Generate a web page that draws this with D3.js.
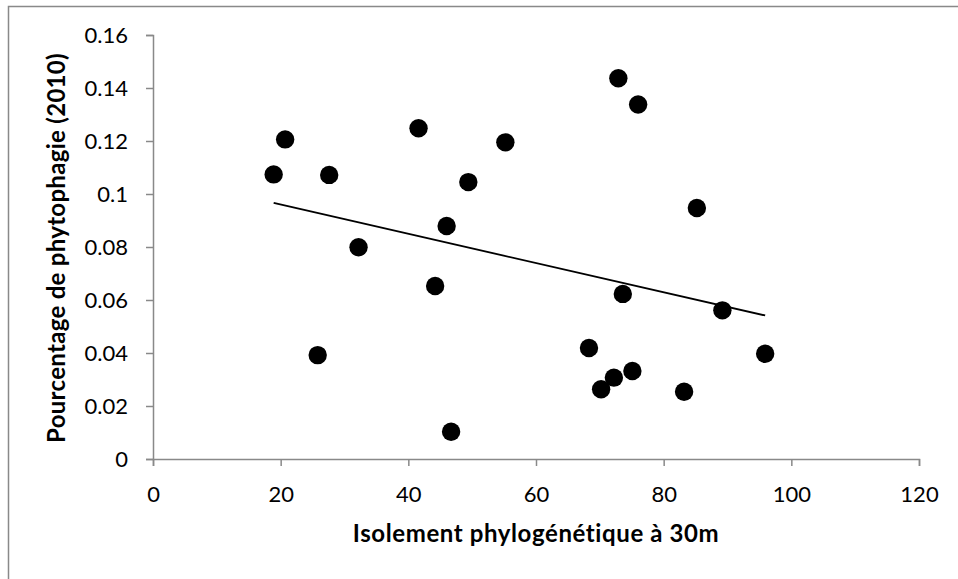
<!DOCTYPE html>
<html>
<head>
<meta charset="utf-8">
<script src="https://cdn.jsdelivr.net/npm/d3@7"></script>
<style>
  body { margin: 0; background: #fff; }
  svg text { font-family: Lato, "Open Sans", sans-serif; fill: #000; }
</style>
</head>
<body>
<svg id="scatter"></svg>
<script>
// isolement phylogenetique (x) and pourcentage de phytophagie (y)
const isolement = [18.9, 20.7, 25.8, 27.6, 32.2, 41.6, 44.2, 46.0, 46.7, 49.4, 55.2,
  68.3, 70.2, 72.2, 72.9, 73.6, 75.1, 76.0, 83.2, 85.2, 89.2, 95.9];
const phytophagie = [0.1074, 0.1206, 0.0392, 0.1072, 0.0799, 0.1248, 0.0653, 0.0879, 0.0103, 0.1045, 0.1195,
  0.0419, 0.0263, 0.0307, 0.1437, 0.0623, 0.0332, 0.1338, 0.0254, 0.0947, 0.0561, 0.0397];
const xTicks = [0, 20, 40, 60, 80, 100, 120];
const yTicks = [0, 0.02, 0.04, 0.06, 0.08, 0.1, 0.12, 0.14, 0.16];

const xTitle = "Isolement phylogénétique à 30m";
const yTitle = "Pourcentage de phytophagie (2010)";

function drawScatter() {

  const W = 958, H = 579;
  const margin = {top: 35, right: 39, bottom: 120, left: 153},
    width = W - margin.left - margin.right,
    height = H - margin.top - margin.bottom;

  const root = d3.select("#scatter")
    .attr("width", W)
    .attr("height", H);

  // chart frame (runs off the right and bottom of the picture)
  root.append("rect")
    .attr("x", 8.5)
    .attr("y", 6.5)
    .attr("width", W + 10)
    .attr("height", H + 10)
    .style("fill", "none")
    .style("stroke", "#898989")
    .style("stroke-width", 1.5);

  const svg = root.append("g")
    .attr("transform", `translate(${margin.left}, ${margin.top})`);

  const data = isolement.map((x, i) => ({x: x, y: phytophagie[i]}));

  const x = d3.scaleLinear().domain([0, 120]).range([0, width]);
  const y = d3.scaleLinear().domain([0, 0.16]).range([height, 0]);

  // X axis
  const gx = svg.append("g")
    .attr("transform", `translate(0, ${height})`)
    .call(d3.axisBottom(x).tickValues(xTicks).tickSize(7).tickPadding(20).tickFormat(d3.format("d")));
  gx.selectAll("text").style("font-size", "22px");

  // Y axis
  const gy = svg.append("g")
    .call(d3.axisLeft(y).tickValues(yTicks).tickSize(7).tickPadding(18).tickFormat(d => d === 0 ? "0" : String(+d.toFixed(2))));
  gy.selectAll("text").style("font-size", "22px");

  svg.selectAll(".domain, .tick line")
    .style("stroke", "#898989")
    .style("stroke-width", 1.5);

  // points
  svg.selectAll(".dot")
    .data(data)
    .enter()
    .append("circle")
    .attr("class", "dot")
    .attr("cx", d => x(d.x))
    .attr("cy", d => y(d.y))
    .attr("r", 9.2)
    .style("fill", "#000");

  // linear trendline (least squares over the points)
  const mx = d3.mean(data, d => d.x), my = d3.mean(data, d => d.y);
  const slope = d3.sum(data, d => (d.x - mx) * (d.y - my)) / d3.sum(data, d => (d.x - mx) ** 2);
  const x0 = d3.min(data, d => d.x), x1 = d3.max(data, d => d.x);
  const trend = [[x0, my + slope * (x0 - mx)], [x1, my + slope * (x1 - mx)]];

  svg.append("path")
    .datum(trend)
    .attr("d", d3.line().x(d => x(d[0])).y(d => y(d[1])))
    .style("fill", "none")
    .style("stroke", "#000")
    .style("stroke-width", 1.8);

  // axis titles
  root.append("text")
    .attr("x", margin.left + width / 2)
    .attr("y", 542)
    .attr("text-anchor", "middle")
    .style("font-size", "24px")
    .style("font-weight", "bold")
    .style("letter-spacing", "0.6px")
    .text(xTitle);

  root.append("text")
    .attr("transform", "translate(65, 248) rotate(-90)")
    .attr("text-anchor", "middle")
    .style("font-size", "24px")
    .style("font-weight", "bold")
    .style("letter-spacing", "0.3px")
    .text(yTitle);
}

drawScatter();
</script>
</body>
</html>
